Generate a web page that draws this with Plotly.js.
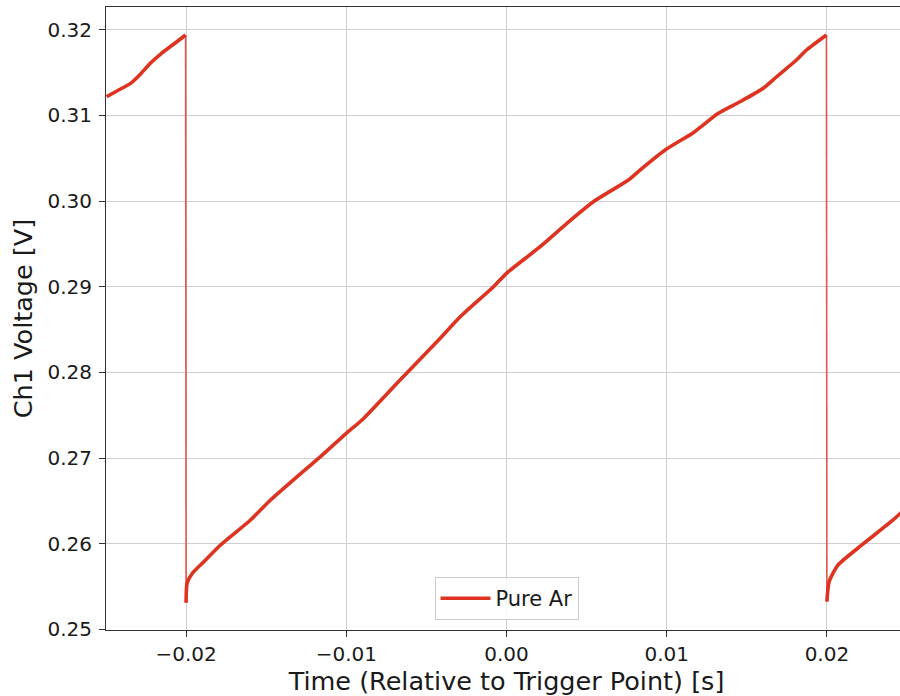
<!DOCTYPE html>
<html>
<head>
<meta charset="utf-8">
<script src="https://cdn.plot.ly/plotly-3.0.1.min.js"></script>
<style>
  html, body { margin: 0; padding: 0; overflow: hidden; background: #fff; }
  #chart { width: 907px; height: 696px; }
</style>
</head>
<body>
<div id="chart"></div>
<script>
// Sweep 1 (before first reset)
const t1 = [-0.02496, -0.02429, -0.02346, -0.02284, -0.02222, -0.02159, -0.02076, -0.02003];
const v1 = [0.31218, 0.31288, 0.31374, 0.31483, 0.31611, 0.31716, 0.31833, 0.31938];
// Sweep 2 (between resets)
const t2 = [-0.02000, -0.01994, -0.01961, -0.01889, -0.01785, -0.01598, -0.01473, -0.01307, -0.01172,
            -0.01000, -0.00902, -0.00660, -0.00424, -0.00289, -0.00081, 0.00000, 0.00210, 0.00377,
            0.00542, 0.00761, 0.00834, 0.00996, 0.01166, 0.01322, 0.01457, 0.01602, 0.01686,
            0.01810, 0.01873, 0.01997];
const v2 = [0.25313, 0.25540, 0.25656, 0.25791, 0.25986, 0.26278, 0.26511, 0.26783, 0.27000,
            0.27290, 0.27445, 0.27920, 0.28378, 0.28650, 0.29000, 0.29157, 0.29467, 0.29740,
            0.29992, 0.30246, 0.30362, 0.30604, 0.30798, 0.31024, 0.31159, 0.31316, 0.31451,
            0.31646, 0.31763, 0.31938];
// Sweep 3 (after second reset)
const t3 = [0.02000, 0.02014, 0.02070, 0.02226, 0.02413, 0.02500];
const v3 = [0.25324, 0.25558, 0.25753, 0.25998, 0.26278, 0.26430];

const xTickVals = [-0.02, -0.01, 0.00, 0.01, 0.02];
const xTickText = ["\u22120.02", "\u22120.01", "0.00", "0.01", "0.02"];
const yTickVals = [0.25, 0.26, 0.27, 0.28, 0.29, 0.30, 0.31, 0.32];
const yTickText = ["0.25", "0.26", "0.27", "0.28", "0.29", "0.30", "0.31", "0.32"];

const seriesName = "Pure Ar";
const lineColor = "#dd3320";

// main sweeps joined with gaps
const xs = t1.concat([null], t2, [null], t3);
const ys = v1.concat([null], v2, [null], v3);

// reset drops: end of one sweep to the start of the next
const dropX = [t1[t1.length-1], t2[0], null, t2[t2.length-1], t3[0]];
const dropY = [v1[v1.length-1], v2[0], null, v2[v2.length-1], v3[0]];

const traces = [
  {x: dropX, y: dropY, mode: "lines", line: {color: "#e4554a", width: 1.6}, showlegend: false, hoverinfo: "skip", connectgaps: false},
  {x: xs, y: ys, mode: "lines", name: seriesName, line: {color: lineColor, width: 3.6, shape: "spline", smoothing: 0.6}, connectgaps: false}
];

const font = {family: "DejaVu Sans, sans-serif", color: "#1a1a1a"};

const layout = {
  width: 907, height: 696,
  margin: {l: 106, r: 0, t: 7, b: 66},
  paper_bgcolor: "#fff", plot_bgcolor: "#fff",
  font: Object.assign({size: 20}, font),
  showlegend: true,
  legend: {
    x: 0.5, xanchor: "center", y: 0.016, yanchor: "bottom",
    bgcolor: "rgba(255,255,255,0.8)", bordercolor: "#cccccc", borderwidth: 1,
    itemwidth: 50,
    font: Object.assign({size: 21}, font)
  },
  xaxis: {
    range: [-0.025, 0.025],
    tickmode: "array", tickvals: xTickVals, ticktext: xTickText,
    ticks: "outside", ticklen: 6, tickwidth: 1, tickcolor: "#333",
    tickfont: Object.assign({size: 20}, font),
    showgrid: true, gridcolor: "#cfcfcf", gridwidth: 1,
    zeroline: false, showline: true, linecolor: "#333", linewidth: 1, mirror: true,
    title: {text: "Time (Relative to Trigger Point) [s]", font: Object.assign({size: 25.5}, font), standoff: 6},
    automargin: false
  },
  yaxis: {
    range: [0.24994, 0.32265],
    tickmode: "array", tickvals: yTickVals, ticktext: yTickText,
    ticks: "outside", ticklen: 6, tickwidth: 1, tickcolor: "#333",
    ticklabelstandoff: 3,
    tickfont: Object.assign({size: 20}, font),
    showgrid: true, gridcolor: "#cfcfcf", gridwidth: 1,
    zeroline: false, showline: true, linecolor: "#333", linewidth: 1, mirror: true,
    title: {text: "Ch1 Voltage [V]", font: Object.assign({size: 25.5}, font), standoff: 7},
    automargin: false
  }
};

Plotly.newPlot("chart", traces, layout, {displayModeBar: false, staticPlot: true});
</script>
</body>
</html>
